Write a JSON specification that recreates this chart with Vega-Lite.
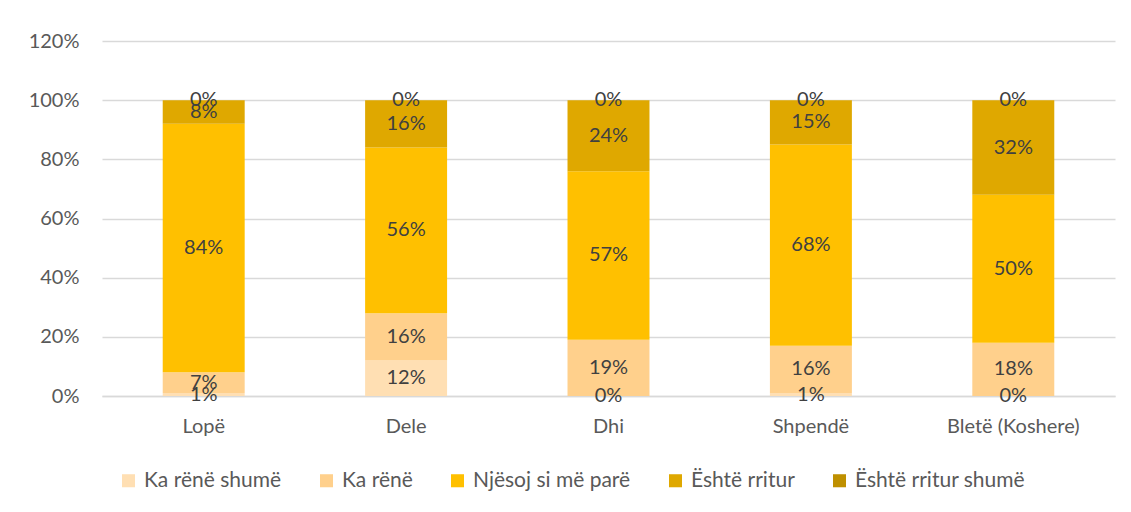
{
  "$schema": "https://vega.github.io/schema/vega-lite/v6.json",
  "autosize": {"type": "none"},
  "width": 1013,
  "height": 355,
  "padding": {"left": 102, "top": 41, "right": 16, "bottom": 116},
  "background": "white",
  "config": {"view": {"stroke": null}, "font": "Lato"},
  "data": {"values": [
    {"cat": "Lopë", "s": "Ka rënë shumë", "k": 1, "v": 0.01},
    {"cat": "Lopë", "s": "Ka rënë", "k": 2, "v": 0.07},
    {"cat": "Lopë", "s": "Njësoj si më parë", "k": 3, "v": 0.84},
    {"cat": "Lopë", "s": "Është rritur", "k": 4, "v": 0.08},
    {"cat": "Lopë", "s": "Është rritur shumë", "k": 5, "v": 0.0},
    {"cat": "Dele", "s": "Ka rënë shumë", "k": 1, "v": 0.12},
    {"cat": "Dele", "s": "Ka rënë", "k": 2, "v": 0.16},
    {"cat": "Dele", "s": "Njësoj si më parë", "k": 3, "v": 0.56},
    {"cat": "Dele", "s": "Është rritur", "k": 4, "v": 0.16},
    {"cat": "Dele", "s": "Është rritur shumë", "k": 5, "v": 0.0},
    {"cat": "Dhi", "s": "Ka rënë shumë", "k": 1, "v": 0.0},
    {"cat": "Dhi", "s": "Ka rënë", "k": 2, "v": 0.19},
    {"cat": "Dhi", "s": "Njësoj si më parë", "k": 3, "v": 0.57},
    {"cat": "Dhi", "s": "Është rritur", "k": 4, "v": 0.24},
    {"cat": "Dhi", "s": "Është rritur shumë", "k": 5, "v": 0.0},
    {"cat": "Shpendë", "s": "Ka rënë shumë", "k": 1, "v": 0.01},
    {"cat": "Shpendë", "s": "Ka rënë", "k": 2, "v": 0.16},
    {"cat": "Shpendë", "s": "Njësoj si më parë", "k": 3, "v": 0.68},
    {"cat": "Shpendë", "s": "Është rritur", "k": 4, "v": 0.15},
    {"cat": "Shpendë", "s": "Është rritur shumë", "k": 5, "v": 0.0},
    {"cat": "Bletë (Koshere)", "s": "Ka rënë shumë", "k": 1, "v": 0.0},
    {"cat": "Bletë (Koshere)", "s": "Ka rënë", "k": 2, "v": 0.18},
    {"cat": "Bletë (Koshere)", "s": "Njësoj si më parë", "k": 3, "v": 0.50},
    {"cat": "Bletë (Koshere)", "s": "Është rritur", "k": 4, "v": 0.32},
    {"cat": "Bletë (Koshere)", "s": "Është rritur shumë", "k": 5, "v": 0.0}
  ]},
  "transform": [
    {"stack": "v", "groupby": ["cat"], "sort": [{"field": "k", "order": "ascending"}], "as": ["y0", "y1"]},
    {"calculate": "(datum.y0 + datum.y1) / 2", "as": "ymid"}
  ],
  "encoding": {
    "x": {
      "field": "cat", "type": "nominal", "sort": null, "title": null,
      "scale": {"paddingInner": 0.595, "paddingOuter": 0.3},
      "axis": {"labelAngle": 0, "labelFontSize": 20, "labelColor": "#595959", "labelPadding": 20, "ticks": false, "domainColor": "#D9D9D9", "domainWidth": 1.5}
    }
  },
  "layer": [
    {
      "mark": {"type": "bar"},
      "encoding": {
        "y": {
          "field": "y0", "type": "quantitative", "title": null,
          "scale": {"domain": [0, 1.2], "nice": false},
          "axis": {"values": [0, 0.2, 0.4, 0.6, 0.8, 1.0, 1.2], "format": ".0%", "labelFontSize": 20, "labelColor": "#595959", "labelPadding": 23, "ticks": false, "domain": false, "gridColor": "#D9D9D9", "gridWidth": 1.5}
        },
        "y2": {"field": "y1"},
        "color": {
          "field": "s", "type": "nominal", "title": null,
          "scale": {
            "domain": ["Ka rënë shumë", "Ka rënë", "Njësoj si më parë", "Është rritur", "Është rritur shumë"],
            "range": ["#FFDFB3", "#FFD08C", "#FFC000", "#DFA800", "#BF9000"]
          },
          "legend": {
            "orient": "none", "legendX": 16, "legendY": 429, "direction": "horizontal",
            "symbolType": "square", "symbolSize": 170, "symbolStrokeWidth": 0,
            "labelFontSize": 21, "labelColor": "#595959", "labelLimit": 400, "columnPadding": 34, "labelOffset": 5
          }
        }
      }
    },
    {
      "mark": {"type": "text", "fontSize": 20, "color": "#404040", "baseline": "middle"},
      "encoding": {
        "y": {"field": "ymid", "type": "quantitative"},
        "text": {"field": "v", "type": "quantitative", "format": ".0%"}
      }
    }
  ]
}
